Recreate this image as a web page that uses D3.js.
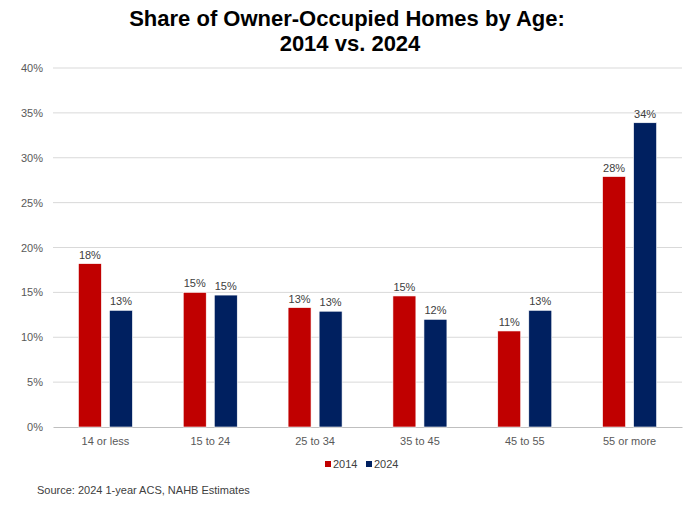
<!DOCTYPE html>
<html>
<head>
<meta charset="utf-8">
<script src="https://cdn.jsdelivr.net/npm/d3@7"></script>
<style>
  body { margin: 0; background: #fff; }
  text { font-family: "Liberation Sans", Arial, sans-serif; }
</style>
</head>
<body>
<div id="chart"></div>
<script>
const ageGroups = ["14 or less", "15 to 24", "25 to 34", "35 to 45", "45 to 55", "55 or more"];
const share2014 = [18.2, 15.0, 13.3, 14.6, 10.7, 27.9];
const share2024 = [13.0, 14.7, 12.9, 12.0, 13.0, 33.9];
const labels2014 = ["18%", "15%", "13%", "15%", "11%", "28%"];
const labels2024 = ["13%", "15%", "13%", "12%", "13%", "34%"];
const yTicks = [0, 5, 10, 15, 20, 25, 30, 35, 40];
const seriesNames = ["2014", "2024"];

const W = 685, H = 506;
const margin = {top: 68, right: 3, bottom: 79, left: 53},
    width = W - margin.left - margin.right,
    height = H - margin.top - margin.bottom;

const colors = ["#C00000", "#002060"];

const svg = d3.select("#chart").append("svg")
    .attr("width", W)
    .attr("height", H);

svg.append("text")
    .attr("x", 347).attr("y", 26)
    .attr("text-anchor", "middle")
    .style("font-size", "22px").style("font-weight", "bold").attr("fill", "#000")
    .text("Share of Owner-Occupied Homes by Age:");
svg.append("text")
    .attr("x", 350).attr("y", 51)
    .attr("text-anchor", "middle")
    .style("font-size", "22px").style("font-weight", "bold").attr("fill", "#000")
    .text("2014 vs. 2024");

const g = svg.append("g")
    .attr("transform", "translate(" + margin.left + "," + margin.top + ")");

const x = d3.scaleBand()
    .domain(ageGroups)
    .range([0, width])
    .paddingInner(0)
    .paddingOuter(0);

const x1 = d3.scaleBand()
    .domain(seriesNames)
    .range([x.bandwidth() / 2 - 27, x.bandwidth() / 2 + 27])
    .paddingInner(0.26)
    .paddingOuter(0);

const y = d3.scaleLinear()
    .domain([0, 40])
    .range([height, 0]);

// grid
g.selectAll(".grid").data(yTicks.filter(d => d > 0)).enter()
    .append("line")
    .attr("x1", 0).attr("x2", width)
    .attr("y1", d => y(d)).attr("y2", d => y(d))
    .attr("stroke", "#d9d9d9").attr("stroke-width", 1);

// y axis labels
const yAxis = g.append("g")
    .call(d3.axisLeft(y).tickValues(yTicks).tickFormat(d => d + "%").tickSize(0).tickPadding(10));
yAxis.select(".domain").remove();
yAxis.selectAll("text")
    .style("font-size", "11px").attr("fill", "#595959")
    .style("font-family", "'Liberation Sans', Arial, sans-serif");

// x axis
const xAxis = g.append("g")
    .attr("transform", "translate(0," + height + ")")
    .call(d3.axisBottom(x).tickSize(0).tickPadding(10));
xAxis.select(".domain").attr("stroke", "#bfbfbf");
xAxis.selectAll("text")
    .style("font-size", "11px").attr("fill", "#595959")
    .style("font-family", "'Liberation Sans', Arial, sans-serif");

const series = [
    {name: "2014", values: share2014, labels: labels2014, color: colors[0]},
    {name: "2024", values: share2024, labels: labels2024, color: colors[1]}
];

series.forEach(s => {
    g.selectAll(".bar" + s.name).data(ageGroups).enter()
        .append("rect")
        .attr("x", d => x(d) + x1(s.name))
        .attr("width", x1.bandwidth())
        .attr("y", (d, i) => y(s.values[i]))
        .attr("height", (d, i) => height - y(s.values[i]))
        .attr("fill", s.color)
        .attr("stroke", "#fff").attr("stroke-width", 0.6);

    g.selectAll(".lab" + s.name).data(ageGroups).enter()
        .append("text")
        .attr("x", d => x(d) + x1(s.name) + x1.bandwidth() / 2)
        .attr("y", (d, i) => y(s.values[i]) - 5)
        .attr("text-anchor", "middle")
        .style("font-size", "11px").attr("fill", "#404040")
        .text((d, i) => s.labels[i]);
});

// legend
const legend = svg.append("g").attr("transform", "translate(325,461)");
series.forEach((s, i) => {
    const lg = legend.append("g").attr("transform", "translate(" + (i * 41) + ",0)");
    lg.append("rect").attr("width", 6).attr("height", 6).attr("fill", s.color);
    lg.append("text").attr("x", 8).attr("y", 6.5)
        .style("font-size", "11px").attr("fill", "#404040")
        .text(s.name);
});

svg.append("text")
    .attr("x", 37).attr("y", 494)
    .style("font-size", "11px").attr("fill", "#404040")
    .text("Source: 2024 1-year ACS, NAHB Estimates");
</script>
</body>
</html>
